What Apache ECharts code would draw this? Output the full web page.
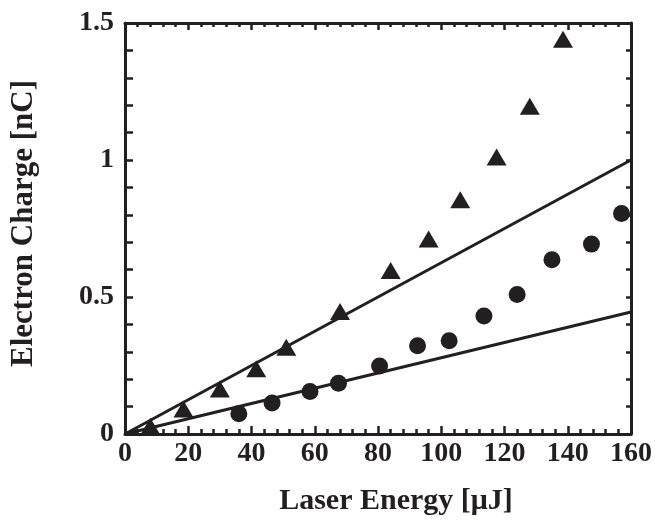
<!DOCTYPE html>
<html>
<head>
<meta charset="utf-8">
<script src="https://cdn.jsdelivr.net/npm/echarts@6/dist/echarts.min.js"></script>
<style>
  html, body { margin: 0; padding: 0; background: #fff; }
  #main { width: 655px; height: 521px; }
</style>
</head>
<body>
<div id="main"></div>
<script>
var myChart = echarts.init(document.getElementById('main'))

// measured points, triangles
var triEnergy = [8, 18.5, 30, 41.5, 51, 68, 84, 96, 106, 117.5, 128, 138.5]
var triCharge = [0.028, 0.091, 0.164, 0.238, 0.317, 0.447, 0.597, 0.712, 0.855, 1.011, 1.196, 1.441]
// measured points, circles
var dotEnergy = [36, 46.5, 58.5, 67.5, 80.5, 92.5, 102.5, 113.5, 124, 135, 147.5, 157]
var dotCharge = [0.074, 0.113, 0.155, 0.185, 0.248, 0.322, 0.340, 0.431, 0.509, 0.636, 0.693, 0.805]
// straight fit lines
var fitEnergy = [0, 160]
var fitUpper = [0, 1.0]
var fitLower = [0, 0.445]

var ink = '#231f20'
var font = '"Liberation Serif", "Times New Roman", serif'

function pairs (xs, ys) {
  return xs.map(function (x, i) { return [x, ys[i]] })
}

var labelStyle = { color: ink, fontFamily: font, fontWeight: 'bold', fontSize: 28 }

const option = {
  animation: false,
  grid: { left: 123, right: 23, top: 23, bottom: 85 },
  xAxis: [
    {
      type: 'value',
      position: 'bottom',
      min: 0,
      max: 160,
      interval: 20,
      name: 'Laser Energy [\u03bcJ]',
      nameLocation: 'middle',
      nameGap: 52,
      nameTextStyle: { color: ink, fontFamily: font, fontWeight: 'bold', fontSize: 30, padding: [0, 0, 0, 36] },
      axisLine: { show: true, onZero: false, lineStyle: { color: ink, width: 3 } },
      axisTick: { show: true, inside: true, length: 8, lineStyle: { color: ink, width: 2.5 } },
      minorTick: { show: true, splitNumber: 5, length: 5, lineStyle: { color: ink, width: 2.5 } },
      axisLabel: Object.assign({ margin: 6 }, labelStyle),
      splitLine: { show: false }
    },
    {
      type: 'value',
      position: 'top',
      min: 0,
      max: 160,
      interval: 20,
      axisLine: { show: true, onZero: false, lineStyle: { color: ink, width: 3 } },
      axisTick: { show: true, inside: true, length: 7, lineStyle: { color: ink, width: 2.5 } },
      minorTick: { show: true, splitNumber: 5, length: 4, lineStyle: { color: ink, width: 2.5 } },
      axisLabel: { show: false },
      splitLine: { show: false }
    }
  ],
  yAxis: [
    {
      type: 'value',
      position: 'left',
      min: 0,
      max: 1.5,
      interval: 0.5,
      name: 'Electron Charge [nC]',
      nameLocation: 'middle',
      nameGap: 86,
      nameTextStyle: { color: ink, fontFamily: font, fontWeight: 'bold', fontSize: 31, padding: [0, 0, 0, 10] },
      axisLine: { show: true, onZero: false, lineStyle: { color: ink, width: 3 } },
      axisTick: { show: true, inside: true, length: 8, lineStyle: { color: ink, width: 2.5 } },
      minorTick: { show: true, splitNumber: 5, length: 8, lineStyle: { color: ink, width: 2.5 } },
      axisLabel: Object.assign({ margin: 11 }, labelStyle),
      splitLine: { show: false }
    },
    {
      type: 'value',
      position: 'right',
      min: 0,
      max: 1.5,
      interval: 0.5,
      axisLine: { show: true, onZero: false, lineStyle: { color: ink, width: 3 } },
      axisTick: { show: true, inside: true, length: 5, lineStyle: { color: ink, width: 2.5 } },
      minorTick: { show: true, splitNumber: 5, length: 5, lineStyle: { color: ink, width: 2.5 } },
      axisLabel: { show: false },
      splitLine: { show: false }
    }
  ],
  series: [
    {
      name: 'fit upper',
      type: 'line',
      data: pairs(fitEnergy, fitUpper),
      showSymbol: false,
      lineStyle: { color: ink, width: 3 },
      z: 2
    },
    {
      name: 'fit lower',
      type: 'line',
      data: pairs(fitEnergy, fitLower),
      showSymbol: false,
      lineStyle: { color: ink, width: 3 },
      z: 2
    },
    {
      name: 'triangles',
      type: 'scatter',
      symbol: 'triangle',
      symbolSize: [20, 17],
      data: pairs(triEnergy, triCharge),
      itemStyle: { color: ink, opacity: 1 },
      z: 3
    },
    {
      name: 'circles',
      type: 'scatter',
      symbol: 'circle',
      symbolSize: 17,
      data: pairs(dotEnergy, dotCharge),
      itemStyle: { color: ink, opacity: 1 },
      z: 3
    }
  ]
}
myChart.setOption(option)
</script>
</body>
</html>
